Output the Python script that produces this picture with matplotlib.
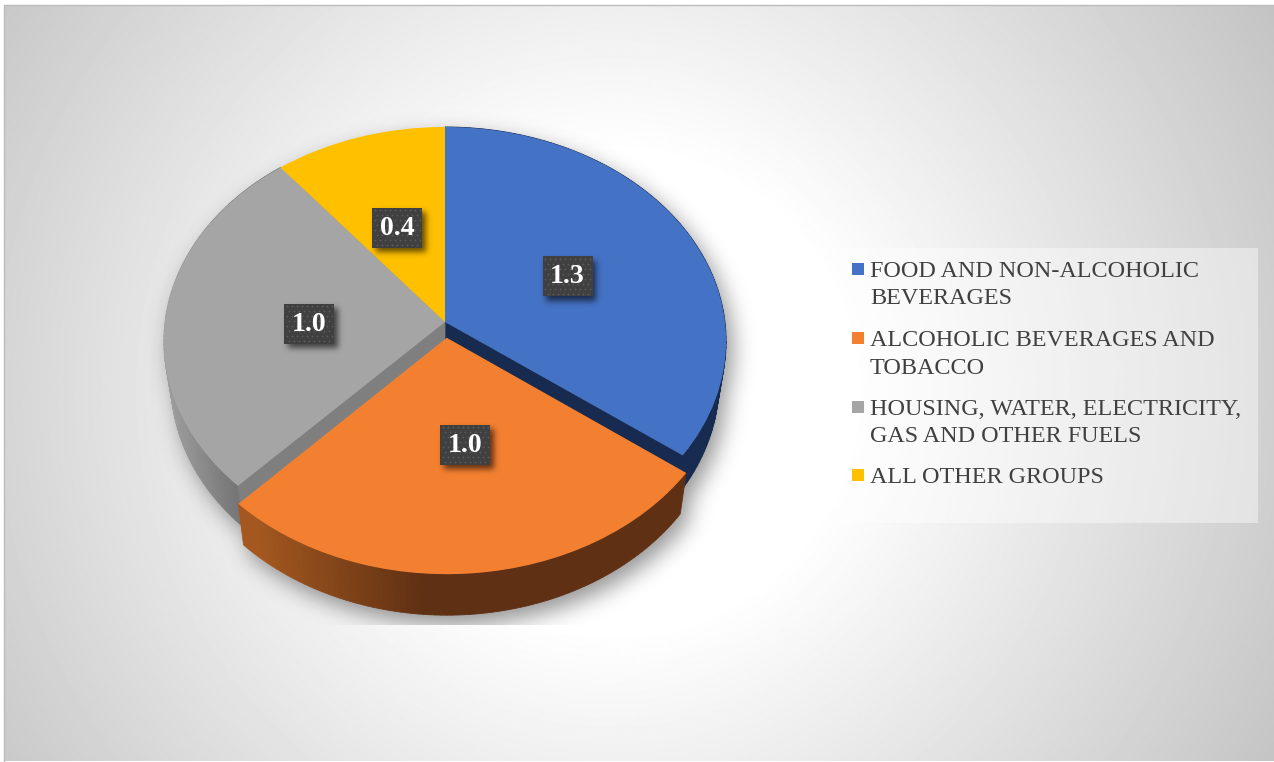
import numpy as np
import matplotlib
matplotlib.use('Agg')
import matplotlib.pyplot as plt
from matplotlib.path import Path
from matplotlib.patches import Rectangle
from matplotlib.transforms import Transform

# chart values
categories = ['FOOD AND NON-ALCOHOLIC\nBEVERAGES',
              'ALCOHOLIC BEVERAGES AND\nTOBACCO',
              'HOUSING, WATER, ELECTRICITY,\nGAS AND OTHER FUELS',
              'ALL OTHER GROUPS']
values = [1.3, 1.0, 1.0, 0.4]
value_labels = ['1.3', '1.0', '1.0', '0.4']
explode = [0, 0.074, 0, 0]
colors = ['#4472C4', '#F37F30', '#A5A5A5', '#FFC000']

W, H = 1274, 762
WALL = 41          # height of the pie side, px
WALL_SCALE = 0.975  # lower rim is a bit narrower than the top one
CX, CY = 445, 322


class DiskProjection(Transform):
    # maps the flat pie disk to a tilted view, near edge drawn larger
    input_dims = 2
    output_dims = 2
    is_separable = False

    def transform_non_affine(self, xy):
        xy = np.asarray(xy, dtype=float)
        w = 1 + 0.089 * xy[:, 1]
        return np.column_stack([CX + 280 * xy[:, 0] / w, CY - 212.4 * xy[:, 1] / w])


def blur(img, sigma):
    # gaussian blur through the fft
    fy = np.fft.fftfreq(img.shape[0])[:, None]
    fx = np.fft.rfftfreq(img.shape[1])[None, :]
    g = np.exp(-2 * (np.pi * sigma) ** 2 * (fx ** 2 + fy ** 2))
    return np.fft.irfft2(np.fft.rfft2(img) * g, s=img.shape)


def lower(p):
    # same points on the bottom rim
    return np.column_stack([CX + (p[:, 0] - CX) * WALL_SCALE, p[:, 1] + WALL])


def arc_points(wedge, n=90):
    t = np.radians(np.linspace(wedge.theta1, wedge.theta2, n))
    c = np.asarray(wedge.center)
    return proj.transform(np.column_stack([c[0] + np.cos(t), c[1] + np.sin(t)]))


def lerp_color(c0, c1, t):
    return tuple((1 - t) * np.array(c0) + t * np.array(c1))


def hex_rgb(h):
    return matplotlib.colors.to_rgb(h)


def outer_wall(pts, c0, c1, x0, x1, z):
    # side of a slice, drawn as thin strips so the colour can change along x
    low = lower(pts)
    for i in range(len(pts) - 1):
        quad = np.vstack([pts[i], pts[i + 1], low[i + 1], low[i]])
        t = np.clip((quad[:, 0].mean() - x0) / (x1 - x0), 0, 1)
        col = lerp_color(hex_rgb(c0), hex_rgb(c1), t)
        ax.fill(quad[:, 0], quad[:, 1], color=col, lw=0.6, zorder=z)


def inner_wall(tip, corner, col, z):
    pts = np.vstack([tip, corner])
    low = lower(pts)
    quad = np.vstack([pts, low[::-1]])
    ax.fill(quad[:, 0], quad[:, 1], color=col, lw=0.5, zorder=z)


fig = plt.figure(figsize=(W / 100, H / 100), dpi=100, facecolor='white')
ax = fig.add_axes([0, 0, 1, 1])

# pie first, it resets limits and aspect so the pixel frame is set afterwards
proj = DiskProjection()
wedges, _ = ax.pie(values, explode=explode, colors=colors, startangle=90,
                   counterclock=False, labeldistance=None, radius=1,
                   wedgeprops={'linewidth': 0})
ax.set_aspect('auto')
ax.set_xlim(0, W)
ax.set_ylim(H, 0)
ax.set_autoscale_on(False)
ax.axis('off')
for i, w in enumerate(wedges):
    w.set_transform(proj + ax.transData)
    w.set_zorder(6 if i == 1 else 4)

# background: radial white to grey
yy, xx = np.mgrid[0:H, 0:W]
d = np.hypot(xx - 610, yy - 390)
bg = np.clip(255 - (d - 240) / (770 - 240) * (255 - 195), 195, 255)
ax.imshow(bg, cmap='gray', vmin=0, vmax=255, extent=(4, W, 761, 5), aspect='auto', zorder=0)
ax.set_xlim(0, W)
ax.set_ylim(H, 0)
ax.plot([4, 4, W], [761, 5, 5], color='#bcbcbc', lw=1, zorder=1)

# soft shadow of the whole pie, cut off by its picture frame at the bottom and left
grid = np.column_stack([xx.ravel(), yy.ravel()])
sil = np.zeros(xx.shape, dtype=bool)
for w in wedges:
    arc = arc_points(w)
    tip = proj.transform(np.array([w.center]))
    top = np.vstack([tip, arc])
    sil |= Path(top).contains_points(grid).reshape(xx.shape)
    sil |= Path(lower(top)).contains_points(grid).reshape(xx.shape)
    sil |= Path(np.vstack([arc, lower(arc)[::-1]])).contains_points(grid).reshape(xx.shape)
shift = np.roll(np.roll(sil.astype(float), 9, axis=0), 6, axis=1)
shadow = blur(shift, 11) * 0.42
shadow[625:, :] = 0
shadow[:, :135] = 0
rgba = np.zeros((H, W, 4))
rgba[..., 3] = np.clip(shadow, 0, 1)
ax.imshow(rgba, extent=(0, W, H, 0), aspect='auto', zorder=2)

# side walls: grey and blue behind, orange in front with the slice it belongs to
arcs = [arc_points(w) for w in wedges]
tips = [proj.transform(np.array([w.center])) for w in wedges]
outer_wall(arcs[0], '#172B50', '#172B50', 0, 1, 3)
outer_wall(arcs[2], '#A2A2A2', '#6C6C6C', 165, 255, 3)
inner_wall(tips[0], arcs[0][0], '#172B50', 3.2)
inner_wall(tips[2], arcs[2][-1], '#7F7F7F', 3.2)
outer_wall(arcs[1], '#A4581F', '#5F3013', 258, 425, 5)

# value boxes with their dotted fill and soft shadow
box_w, box_h = 50, 40
label_nudge = [(0, 1), (6, -5), (4, 6), (-3, 2)]
label_pts = []
for w, (nx, ny) in zip(wedges, label_nudge):
    m = np.radians((w.theta1 + w.theta2) / 2)
    c = np.asarray(w.center)
    p = proj.transform(np.array([[c[0] + 0.5 * np.cos(m), c[1] + 0.5 * np.sin(m)]]))[0]
    label_pts.append((p[0] + nx, p[1] + ny))

box_mask = np.zeros((H, W))
for x, y in label_pts:
    x0, y0 = int(x - box_w / 2), int(y - box_h / 2)
    box_mask[y0 + 5:y0 + box_h + 5, x0 + 4:x0 + box_w + 4] = 1
rgba = np.zeros((H, W, 4))
rgba[..., 3] = np.clip(blur(box_mask, 3) * 0.6, 0, 1)
ax.imshow(rgba, extent=(0, W, H, 0), aspect='auto', zorder=7)

for (x, y), txt in zip(label_pts, value_labels):
    x0, y0 = x - box_w / 2, y - box_h / 2
    ax.add_patch(Rectangle((x0, y0), box_w, box_h, fc='#404040', ec='none', zorder=8))
    gy, gx = np.mgrid[0:8, 0:10]
    dot_x = x0 + 2.5 + gx.ravel() * 5 + (gy.ravel() % 2) * 2.5
    dot_y = y0 + 2.5 + gy.ravel() * 5
    keep = dot_x < x0 + box_w - 1
    ax.scatter(dot_x[keep], dot_y[keep], s=1.6, c='#5C5C5C', linewidths=0, zorder=9)
    ax.text(x, y + 0.5, txt, color='white', fontsize=20, fontweight='bold',
            family='Liberation Serif', ha='center', va='center', zorder=10)

# legend panel
ax.add_patch(Rectangle((840, 248), 418, 275, fc='white', alpha=0.42, ec='none', zorder=3))
legend_y = [269, 338, 407, 475]
for name, col, y in zip(categories, colors, legend_y):
    ax.add_patch(Rectangle((852, y - 6), 12, 12, fc=col, ec='none', zorder=4))
    # first line centred on the swatch, the second one follows below it
    for k, line in enumerate(name.split('\n')):
        ax.text(870, y + 27.5 * k, line, color='#404040', fontsize=17.35,
                family='Liberation Serif', ha='left', va='center_baseline', zorder=4)

fig.savefig('out.png', dpi=100)
